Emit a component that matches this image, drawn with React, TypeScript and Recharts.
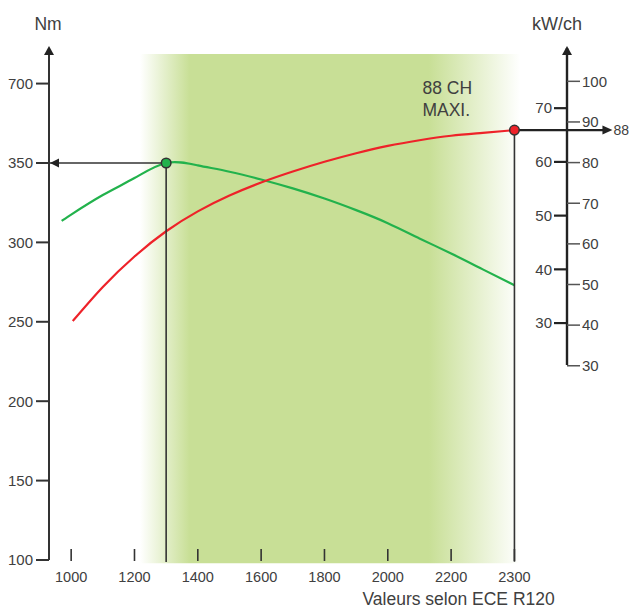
import React from "react";
import {
  LineChart,
  Line,
  XAxis,
  YAxis,
  ReferenceLine,
  ReferenceArea,
  ReferenceDot,
} from "recharts";

// tick labels
const RPM_TICKS = [1000, 1200, 1400, 1600, 1800, 2000, 2200, 2300];
const NM_TICKS = [100, 150, 200, 250, 300, 350, 400];
const NM_LABELS = ["100", "150", "200", "250", "300", "350", "700"];
const CH_TICKS = [30, 40, 50, 60, 70, 80, 90, 100];
const KW_TICKS = [30, 40, 50, 60, 70];

// torque curve (Nm)
const TORQUE_RPM = [970, 1000, 1100, 1200, 1300, 1400, 1500, 1600, 1700, 1800, 1900, 2000, 2100, 2200, 2250, 2300];
const TORQUE_NM = [313.5, 317.5, 329.8, 340.5, 350, 348.5, 344.5, 339.6, 334, 327.6, 320.3, 312.1, 302.5, 293, 283, 273];

// power curve (ch)
const POWER_RPM = [1005, 1100, 1200, 1300, 1400, 1500, 1600, 1700, 1800, 1900, 2000, 2100, 2200, 2250, 2300];
const POWER_CH = [41, 49.4, 56.9, 63.1, 68, 71.9, 75.1, 77.8, 80.2, 82.3, 84.1, 85.5, 86.6, 87.3, 88];

const PEAK_TORQUE = { rpm: 1300, nm: 350 };
const PEAK_POWER = { rpm: 2300, ch: 88 };

// the drawing gives the 2200-2300 step the same width as a 200 rpm step
const axisPos = (rpm: number) => (rpm <= 2200 ? rpm : 2200 + (rpm - 2200) * 2);

const X_DOMAIN = [930, 2566];
const NM_DOMAIN = [100, 422.4];
const CH_DOMAIN = [-17.8, 108.2];
const KW_DOMAIN = [-14.1, 81.2];

const FONT = "'Liberation Sans', Arial, Helvetica, sans-serif";
const TEXT = "#404040";
const GREEN = "#22b24c";
const RED = "#ee2229";

const torqueData = TORQUE_RPM.map((r, i) => ({ x: axisPos(r), nm: TORQUE_NM[i] }));
const powerData = POWER_RPM.map((r, i) => ({ x: axisPos(r), ch: POWER_CH[i] }));

const RpmTick = ({ x, y, index }: any) => (
  <g>
    <line x1={x} x2={x} y1={y - 11} y2={y + 1} stroke="#333" strokeWidth={1.6} />
    <text x={x} y={y + 21.5} textAnchor="middle" fill={TEXT} fontSize={14.5} fontFamily={FONT}>
      {RPM_TICKS[index]}
    </text>
  </g>
);

const upArrow = (cx: number, cy: number) => (
  <polygon points={`${cx},${cy - 2} ${cx - 5},${cy + 7} ${cx + 5},${cy + 7}`} fill="#222" />
);

export default function App() {
  return (
    <div style={{ position: "absolute", left: 0, top: 0 }}>
      <LineChart width={629} height={608} margin={{ top: 48, right: 0, bottom: 0, left: 0 }}>
        <defs>
          <linearGradient id="band" x1="0" y1="0" x2="1" y2="0">
            <stop offset="0" stopColor="#c8df96" stopOpacity={0} />
            <stop offset="0.13" stopColor="#c8df96" stopOpacity={1} />
            <stop offset="0.76" stopColor="#c8df96" stopOpacity={1} />
            <stop offset="1" stopColor="#c8df96" stopOpacity={0} />
          </linearGradient>
        </defs>
        <XAxis
          dataKey="x"
          type="number"
          domain={X_DOMAIN}
          allowDataOverflow
          ticks={RPM_TICKS.map(axisPos)}
          interval={0}
          height={48}
          axisLine={false}
          tickLine={false}
          tickSize={0}
          tickMargin={0}
          tick={<RpmTick />}
        />
        <YAxis
          yAxisId="nm"
          type="number"
          domain={NM_DOMAIN}
          allowDataOverflow
          ticks={NM_TICKS}
          interval={0}
          width={49}
          tickSize={13}
          tickMargin={3}
          axisLine={{ stroke: "#333", strokeWidth: 2 }}
          tickLine={{ stroke: "#333", strokeWidth: 2 }}
          tick={{ fill: TEXT, fontSize: 15, fontFamily: FONT }}
          tickFormatter={(v: number) => NM_LABELS[NM_TICKS.indexOf(v)]}
        />
        <YAxis
          yAxisId="kw"
          orientation="right"
          mirror
          type="number"
          domain={KW_DOMAIN}
          allowDataOverflow
          ticks={KW_TICKS}
          interval={0}
          width={40}
          tickSize={13}
          tickMargin={2}
          axisLine={false}
          tickLine={{ stroke: "#222", strokeWidth: 2.2 }}
          tick={{ fill: TEXT, fontSize: 15, fontFamily: FONT }}
        />
        <YAxis
          yAxisId="ch"
          orientation="right"
          type="number"
          domain={CH_DOMAIN}
          allowDataOverflow
          ticks={CH_TICKS}
          interval={0}
          width={62}
          tickSize={13}
          tickMargin={2}
          axisLine={false}
          tickLine={{ stroke: "#555", strokeWidth: 1.5 }}
          tick={{ fill: TEXT, fontSize: 15, fontFamily: FONT }}
        />

        <ReferenceArea
          yAxisId="nm"
          x1={1218}
          x2={2418}
          y1={98}
          y2={418.6}
          ifOverflow="visible"
          fill="url(#band)"
          fillOpacity={1}
          stroke="none"
        />

        <Line
          yAxisId="nm"
          data={torqueData}
          dataKey="nm"
          type="natural"
          stroke={GREEN}
          strokeWidth={2.2}
          dot={false}
          isAnimationActive={false}
        />
        <Line
          yAxisId="ch"
          data={powerData}
          dataKey="ch"
          type="natural"
          stroke={RED}
          strokeWidth={2.2}
          dot={false}
          isAnimationActive={false}
        />

        {/* right axis line, stops at the 30 ch tick */}
        <ReferenceLine
          yAxisId="ch"
          segment={[
            { x: X_DOMAIN[1], y: 30.2 },
            { x: X_DOMAIN[1], y: CH_DOMAIN[1] },
          ]}
          stroke="#222"
          strokeWidth={2.4}
          ifOverflow="visible"
        />

        {/* peak torque guides */}
        <ReferenceLine
          yAxisId="nm"
          segment={[
            { x: X_DOMAIN[0], y: PEAK_TORQUE.nm },
            { x: axisPos(PEAK_TORQUE.rpm), y: PEAK_TORQUE.nm },
          ]}
          stroke="#333"
          strokeWidth={1.6}
          ifOverflow="visible"
        />
        <ReferenceLine
          yAxisId="nm"
          segment={[
            { x: axisPos(PEAK_TORQUE.rpm), y: PEAK_TORQUE.nm },
            { x: axisPos(PEAK_TORQUE.rpm), y: 98.8 },
          ]}
          stroke="#333"
          strokeWidth={1.6}
          ifOverflow="visible"
        />
        {/* peak power guide */}
        <ReferenceLine
          yAxisId="ch"
          segment={[
            { x: axisPos(PEAK_POWER.rpm), y: PEAK_POWER.ch },
            { x: axisPos(PEAK_POWER.rpm), y: -18.2 },
          ]}
          stroke="#333"
          strokeWidth={1.6}
          ifOverflow="visible"
        />

        {/* axis titles and arrowheads */}
        <ReferenceDot
          yAxisId="nm"
          x={X_DOMAIN[0]}
          y={NM_DOMAIN[1]}
          ifOverflow="visible"
          shape={({ cx, cy }: any) => (
            <g>
              {upArrow(cx, cy)}
              <text x={cx - 1} y={cy - 18} textAnchor="middle" fill={TEXT} fontSize={17.5} fontFamily={FONT}>
                Nm
              </text>
            </g>
          )}
        />
        <ReferenceDot
          yAxisId="ch"
          x={X_DOMAIN[1]}
          y={CH_DOMAIN[1]}
          ifOverflow="visible"
          shape={({ cx, cy }: any) => (
            <g>
              {upArrow(cx, cy)}
              <text x={cx - 10} y={cy - 18} textAnchor="middle" fill={TEXT} fontSize={18} fontFamily={FONT}>
                kW/ch
              </text>
            </g>
          )}
        />
        <ReferenceDot
          yAxisId="nm"
          x={X_DOMAIN[0]}
          y={PEAK_TORQUE.nm}
          ifOverflow="visible"
          shape={({ cx, cy }: any) => (
            <polygon points={`${cx + 1},${cy} ${cx + 10},${cy - 4.5} ${cx + 10},${cy + 4.5}`} fill="#222" />
          )}
        />
        <ReferenceDot
          yAxisId="nm"
          x={axisPos(PEAK_POWER.rpm)}
          y={NM_DOMAIN[0]}
          ifOverflow="visible"
          shape={({ cx, cy }: any) => (
            <text x={cx - 152} y={cy + 45} fill={TEXT} fontSize={17.5} fontFamily={FONT}>
              Valeurs selon ECE R120
            </text>
          )}
        />

        {/* peak markers */}
        <ReferenceDot
          yAxisId="nm"
          x={axisPos(PEAK_TORQUE.rpm)}
          y={PEAK_TORQUE.nm}
          ifOverflow="visible"
          shape={({ cx, cy }: any) => (
            <circle cx={cx} cy={cy} r={4.8} fill={GREEN} stroke="#333" strokeWidth={1.5} />
          )}
        />
        <ReferenceDot
          yAxisId="ch"
          x={axisPos(PEAK_POWER.rpm)}
          y={PEAK_POWER.ch}
          ifOverflow="visible"
          shape={({ cx, cy }: any) => (
            <g>
              <line x1={cx} x2={cx + 89} y1={cy} y2={cy} stroke="#222" strokeWidth={2.2} />
              <polygon points={`${cx + 98},${cy} ${cx + 88},${cy - 4.5} ${cx + 88},${cy + 4.5}`} fill="#222" />
              <text x={cx + 99} y={cy + 5} fill={TEXT} fontSize={14} fontFamily={FONT}>
                {PEAK_POWER.ch}
              </text>
              <text x={cx - 92} y={cy - 36} fill={TEXT} fontSize={17.5} fontFamily={FONT}>
                {PEAK_POWER.ch} CH
              </text>
              <text x={cx - 92} y={cy - 14} fill={TEXT} fontSize={17.5} fontFamily={FONT}>
                MAXI.
              </text>
              <circle cx={cx} cy={cy} r={4.8} fill={RED} stroke="#333" strokeWidth={1.5} />
            </g>
          )}
        />
      </LineChart>
    </div>
  );
}
